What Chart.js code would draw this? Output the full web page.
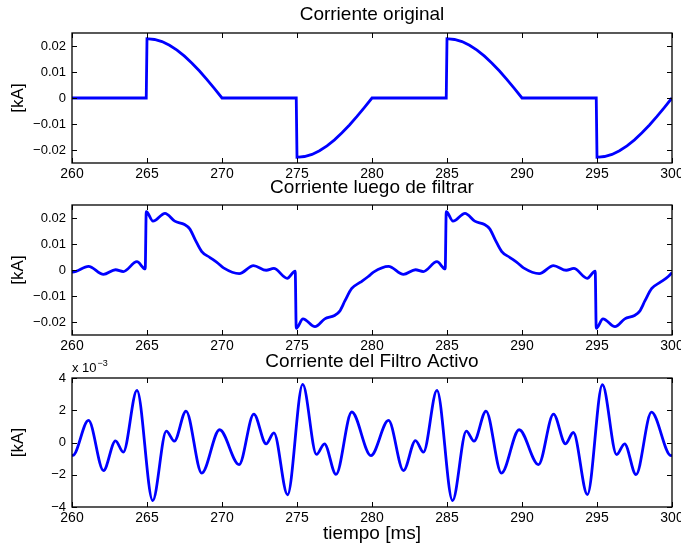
<!DOCTYPE html>
<html>
<head>
<meta charset="utf-8">
<title>Corriente</title>
<script src="https://cdn.jsdelivr.net/npm/chart.js@4.4.1/dist/chart.umd.min.js"></script>
<style>
  html, body { margin: 0; padding: 0; background: #fff; overflow: hidden; }
  body { width: 681px; height: 546px; position: relative; }
  canvas { position: absolute; left: 0; }
</style>
</head>
<body>
<canvas id="chartOriginal" width="700" height="190" style="top:0px"></canvas>
<canvas id="chartFiltrada" width="700" height="190" style="top:172px"></canvas>
<canvas id="chartFiltro" width="700" height="201" style="top:345px"></canvas>
<script>
// corriente original (kA) vs tiempo (ms)
const tOriginal = [260, 264.95, 265, 265.5, 266, 266.5, 267, 267.5, 268, 268.5, 269, 269.5, 270,
    274.95, 275, 275.5, 276, 276.5, 277, 277.5, 278, 278.5, 279, 279.5, 280,
    284.95, 285, 285.5, 286, 286.5, 287, 287.5, 288, 288.5, 289, 289.5, 290,
    294.95, 295, 295.5, 296, 296.5, 297, 297.5, 298, 298.5, 299, 299.5, 300];
const iOriginal = [0, 0, 0.0228, 0.0225, 0.0217, 0.0203, 0.0184, 0.0161, 0.0134, 0.0104, 0.0071, 0.0036, 0,
    0, -0.0228, -0.0225, -0.0217, -0.0203, -0.0184, -0.0161, -0.0134, -0.0104, -0.0071, -0.0036, 0,
    0, 0.0228, 0.0225, 0.0217, 0.0203, 0.0184, 0.0161, 0.0134, 0.0104, 0.0071, 0.0036, 0,
    0, -0.0228, -0.0225, -0.0217, -0.0203, -0.0184, -0.0161, -0.0134, -0.0104, -0.0071, -0.0036, 0];

// corriente luego de filtrar (kA)
const tFiltrada = [260, 260.05, 261.1, 262.1, 262.9, 263.42, 264.33, 264.88, 264.95, 265.4, 266.2, 266.85,
    267.5, 267.85, 268.2, 268.65, 269.2, 269.75, 270.1, 271.15, 272.1, 272.95, 273.45, 274.35, 274.88, 274.95,
    275.4, 276.2, 276.85, 277.5, 277.85, 278.2, 278.65, 279.2, 279.75, 280.1,
    281.1, 282.1, 282.9, 283.42, 284.33, 284.88, 284.95, 285.4, 286.2, 286.85,
    287.5, 287.85, 288.2, 288.65, 289.2, 289.75, 290.1, 291.15, 292.1, 292.95, 293.45, 294.35, 294.88, 294.95,
    295.4, 296.2, 296.85, 297.5, 297.85, 298.2, 298.65, 299.2, 299.75, 300];
const iFiltrada = [-0.0008, -0.0008, 0.0014, -0.0017, 0.0001, -0.0006, 0.0032, 0.0004, 0.0224, 0.0188, 0.0218, 0.0188,
    0.0175, 0.0158, 0.0118, 0.0071, 0.0048, 0.0025, 0.0008, -0.0014, 0.0017, -0.0001, 0.0006, -0.0032, -0.0004, -0.0224,
    -0.0188, -0.0218, -0.0188, -0.0175, -0.0158, -0.0118, -0.0071, -0.0048, -0.0025, -0.0008,
    0.0014, -0.0017, 0.0001, -0.0006, 0.0032, 0.0004, 0.0224, 0.0188, 0.0218, 0.0188,
    0.0175, 0.0158, 0.0118, 0.0071, 0.0048, 0.0025, 0.0008, -0.0014, 0.0017, -0.0001, 0.0006, -0.0032, -0.0004, -0.0224,
    -0.0188, -0.0218, -0.0188, -0.0175, -0.0158, -0.0118, -0.0071, -0.0048, -0.0025, -0.0010];

// corriente del filtro activo (x 10^-3 kA)
const tFiltro = [260, 260.05, 261.1, 262.1, 262.9, 263.42, 264.33, 265.38, 266.29, 266.82, 267.6, 268.65, 269.84,
    271.14, 272.12, 272.94, 273.46, 274.37, 275.38, 276.3, 276.83, 277.6, 278.65, 279.93,
    281.1, 282.1, 282.9, 283.43, 284.33, 285.37, 286.29, 286.8, 287.6, 288.63, 289.81,
    291.1, 292.1, 292.9, 293.42, 294.36, 295.36, 296.31, 296.84, 297.6, 298.63, 299.93, 300];
const iFiltro = [-0.80, -0.80, 1.37, -1.74, 0.10, -0.60, 3.23, -3.60, 0.70, 0.08, 1.95, -1.90, 0.79,
    -1.37, 1.76, -0.08, 0.60, -3.24, 3.60, -0.74, -0.08, -1.98, 1.89, -0.81,
    1.37, -1.74, 0.12, -0.60, 3.23, -3.60, 0.70, 0.08, 1.95, -1.90, 0.79,
    -1.37, 1.76, -0.08, 0.62, -3.23, 3.58, -0.75, -0.08, -1.99, 1.88, -0.81, -0.80];

const ticksTiempo = [260, 265, 270, 275, 280, 285, 290, 295, 300];
const ticksCorriente = [-0.02, -0.01, 0, 0.01, 0.02];
const ticksFiltro = [-4, -2, 0, 2, 4];

Chart.defaults.font.family = "'Liberation Sans', Arial, Helvetica, sans-serif";
Chart.defaults.color = '#000';

function conMenos(v) {
    if (v === 0) return '0';
    return (v < 0 ? '\u2212' : '') + Math.abs(v).toString();
}

// caja completa con marcas hacia adentro, estilo matlab
const marcoEjes = {
    id: 'marcoEjes',
    afterDraw(chart, args, opts) {
        const ctx = chart.ctx;
        const a = chart.chartArea;
        const sx = chart.scales.x, sy = chart.scales.y;
        ctx.save();
        ctx.strokeStyle = '#000';
        ctx.lineWidth = 1;
        ctx.beginPath();
        sx.ticks.forEach(t => {
            const px = Math.round(sx.getPixelForValue(t.value)) + 0.5;
            ctx.moveTo(px, a.bottom); ctx.lineTo(px, a.bottom - 5);
            ctx.moveTo(px, a.top); ctx.lineTo(px, a.top + 5);
        });
        sy.ticks.forEach(t => {
            const py = Math.round(sy.getPixelForValue(t.value)) + 0.5;
            ctx.moveTo(a.left, py); ctx.lineTo(a.left + 5, py);
            ctx.moveTo(a.right, py); ctx.lineTo(a.right - 5, py);
        });
        ctx.stroke();
        ctx.lineWidth = 1.3;
        ctx.strokeRect(a.left, a.top, a.right - a.left, a.bottom - a.top);
        if (opts.exponente) {
            ctx.fillStyle = '#000';
            ctx.textBaseline = 'alphabetic';
            ctx.font = "13px 'Liberation Sans', Arial, sans-serif";
            ctx.fillText('x 10', a.left, a.top - 6);
            const w = ctx.measureText('x 10').width;
            ctx.font = "9px 'Liberation Sans', Arial, sans-serif";
            ctx.fillText(opts.exponente, a.left + w + 1, a.top - 12);
        }
        ctx.restore();
    }
};

function crearGrafico(id, cfg) {
    const puntos = cfg.t.map((t, k) => ({x: t, y: cfg.y[k]}));
    return new Chart(document.getElementById(id), {
        type: 'line',
        data: {
            datasets: [{
                data: puntos,
                borderColor: 'rgb(0,0,255)',
                borderWidth: 2.8,
                pointRadius: 0,
                fill: false,
                tension: cfg.suave ? 0.4 : 0,
                cubicInterpolationMode: cfg.suave ? 'monotone' : 'default'
            }]
        },
        options: {
            responsive: false,
            animation: false,
            devicePixelRatio: 1,
            layout: {padding: {left: 0, right: 28, top: 0, bottom: 0}},
            plugins: {
                legend: {display: false},
                tooltip: {enabled: false},
                title: {
                    display: true,
                    text: cfg.titulo,
                    fullSize: false,
                    font: {size: 19, weight: 'normal'},
                    padding: cfg.padTitulo
                },
                marcoEjes: {exponente: cfg.exponente || null}
            },
            scales: {
                x: {
                    type: 'linear',
                    min: 260,
                    max: 300,
                    afterBuildTicks: s => { s.ticks = ticksTiempo.map(v => ({value: v})); },
                    afterFit: s => { s.height = cfg.altoX; },
                    grid: {display: false, drawTicks: false},
                    border: {display: false},
                    ticks: {font: {size: 14}, padding: 3, autoSkip: false, maxRotation: 0},
                    title: cfg.tituloX ? {
                        display: true, text: cfg.tituloX,
                        font: {size: 19}, padding: {top: 0, bottom: 0.6}
                    } : {display: false}
                },
                y: {
                    min: cfg.min,
                    max: cfg.max,
                    afterBuildTicks: s => { s.ticks = cfg.ticks.map(v => ({value: v})); },
                    afterFit: s => { s.width = 72; },
                    grid: {display: false, drawTicks: false},
                    border: {display: false},
                    ticks: {font: {size: 13}, padding: 6, callback: v => conMenos(v)},
                    title: {display: true, text: '[kA]', font: {size: 17}, padding: {top: 8, bottom: 0}}
                }
            }
        },
        plugins: [marcoEjes]
    });
}

crearGrafico('chartOriginal', {
    t: tOriginal, y: iOriginal, suave: false,
    titulo: 'Corriente original', padTitulo: {top: 3.6, bottom: 6.6},
    min: -0.025, max: 0.025, ticks: ticksCorriente, altoX: 27
});

crearGrafico('chartFiltrada', {
    t: tFiltrada, y: iFiltrada, suave: true,
    titulo: 'Corriente luego de filtrar', padTitulo: {top: 4.6, bottom: 5.6},
    min: -0.025, max: 0.025, ticks: ticksCorriente, altoX: 27
});

crearGrafico('chartFiltro', {
    t: tFiltro, y: iFiltro, suave: true,
    titulo: 'Corriente del Filtro Activo', padTitulo: {top: 5.6, bottom: 4.6},
    min: -4, max: 4, ticks: ticksFiltro, altoX: 39,
    tituloX: 'tiempo [ms]', exponente: '\u22123'
});
</script>
</body>
</html>
